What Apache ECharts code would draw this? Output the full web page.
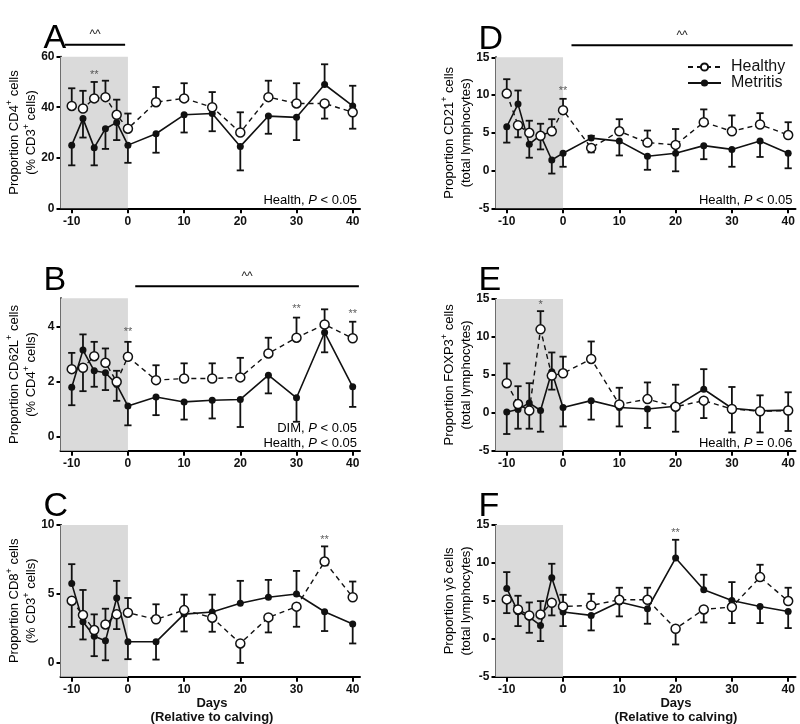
<!DOCTYPE html>
<html><head><meta charset="utf-8">
<script src="https://cdn.jsdelivr.net/npm/echarts@6/dist/echarts.min.js"></script>
<style>html,body{margin:0;padding:0;background:#fff}#c{width:800px;height:724px}</style>
</head><body><div id="c"></div>
<script>
// ---------------- DATA ----------------
const days = [-10, -8, -6, -4, -2, 0, 5, 10, 15, 20, 25, 30, 35, 40];
const xTickLabels = [-10, 0, 10, 20, 30, 40];

// A: CD4+ (% CD3+)
const cd4Healthy     = [40.5, 39.5, 43.5, 44, 37, 31.5, 42, 43.5, 40, 30, 44, 41.5, 41.5, 38];
const cd4HealthySem  = [7, 7, 6.5, 6.5, 6, 6, 6, 6, 6, 8, 6.5, 8, 6, 6.5];
const cd4Metritis    = [25, 35.5, 24, 31.5, 34, 25, 29.5, 37, 37.5, 24.5, 36.5, 36, 49, 40.5];
const cd4MetritisSem = [8, 7.5, 7, 8, 7, 7, 7.5, 7, 7, 9.5, 7, 9, 8, 8];
// D: CD21+ (total lymphocytes)
const cd21Healthy     = [10.2, 6.0, 5.0, 4.6, 5.2, 8.0, 3.0, 5.2, 3.7, 3.4, 6.4, 5.2, 6.1, 4.7];
const cd21HealthySem  = [1.9, 1.6, 1.6, 1.8, 1.6, 1.5, 0.6, 1.6, 1.6, 2.1, 1.7, 2.1, 1.5, 1.7];
const cd21Metritis    = [5.8, 8.8, 3.5, 4.7, 1.4, 2.3, 4.3, 3.9, 1.9, 2.3, 3.3, 2.8, 3.9, 2.3];
const cd21MetritisSem = [2.1, 1.8, 1.8, 1.5, 1.8, 1.8, 0.3, 1.9, 1.8, 2.4, 1.8, 2.3, 2.1, 2.0];
// B: CD62L+ (% CD4+)
const cd62Healthy     = [2.46, 2.51, 2.93, 2.69, 2.0, 2.91, 2.06, 2.12, 2.12, 2.16, 3.03, 3.6, 4.08, 3.58];
const cd62HealthySem  = [0.59, 0.85, 0.52, 0.52, 0.4, 0.54, 0.54, 0.55, 0.55, 0.71, 0.57, 0.73, 0.55, 0.6];
const cd62Metritis    = [1.8, 3.15, 2.4, 2.33, 1.9, 1.12, 1.45, 1.27, 1.33, 1.36, 2.24, 1.42, 3.79, 1.82];
const cd62MetritisSem = [0.65, 0.57, 0.58, 0.63, 0.59, 0.7, 0.66, 0.64, 0.66, 1.0, 0.66, 0.87, 0.72, 0.73];
// E: FOXP3+ (total lymphocytes)
const foxHealthy     = [3.9, 1.15, 0.3, 11.0, 4.9, 5.2, 7.1, 1.1, 1.8, 0.8, 1.6, 0.5, 0.2, 0.3];
const foxHealthySem  = [2.6, 2.35, 2.4, 2.4, 1.85, 2.2, 2.3, 2.2, 2.2, 3.3, 2.3, 3.1, 2.8, 2.7];
const foxMetritis    = [0.1, 0.44, 1.3, 0.3, 5.4, 0.7, 1.6, 0.7, 0.5, 0.85, 3.1, 0.6, 0.25, 0.35];
const foxMetritisSem = [2.9, 2.54, 2.6, 2.8, 2.55, 2.5, 2.5, 2.5, 2.5, 2.85, 2.65, 2.8, 2.05, 2.35];
// C: CD8+ (% CD3+)
const cd8Healthy     = [4.51, 3.47, 2.38, 2.79, 3.52, 3.64, 3.16, 3.83, 3.28, 1.41, 3.3, 4.08, 7.35, 4.76];
const cd8HealthySem  = [1.9, 1.82, 1.14, 1.14, 1.07, 1.07, 1.09, 1.12, 1.02, 1.41, 1.09, 1.46, 1.1, 1.14];
const cd8Metritis    = [5.75, 2.99, 1.94, 1.6, 4.71, 1.53, 1.53, 3.54, 3.69, 4.32, 4.76, 5.0, 3.71, 2.82];
const cd8MetritisSem = [1.41, 1.29, 1.45, 1.41, 1.24, 1.26, 1.29, 1.26, 1.26, 1.63, 1.26, 1.67, 1.4, 1.41];
// F: gamma-delta (total lymphocytes)
const gdHealthy     = [5.19, 3.87, 3.08, 3.21, 4.75, 4.26, 4.4, 5.14, 5.14, 1.32, 3.87, 4.18, 8.13, 4.97];
const gdHealthySem  = [1.81, 1.8, 1.71, 1.76, 1.67, 1.54, 1.53, 1.59, 1.59, 2.07, 1.72, 2.11, 1.63, 1.76];
const gdMetritis    = [6.64, 3.56, 2.86, 1.76, 8.04, 3.52, 3.08, 4.84, 3.96, 10.64, 6.46, 5.05, 4.26, 3.6];
const gdMetritisSem = [2.15, 1.89, 2.07, 2.07, 1.85, 1.85, 1.98, 1.89, 1.98, 2.41, 1.98, 2.42, 2.19, 2.19];

// significance marks [day, y, text]
const starsA = [[-6, 54, '**']];
const starsD = [[0, 11.0, '**']];
const starsB = [[0, 3.92, '**'], [30, 4.75, '**'], [40, 4.57, '**']];
const starsE = [[-4, 14.6, '*']];
const starsC = [[35, 9.13, '**']];
const starsF = [[20, 14.3, '**']];
// "^^" bars [fromDay, toDay]
const caretA = [-11.2, -0.5];
const caretD = [1.5, 40.8];
const caretB = [1.3, 41.1];

// ---------------- LAYOUT ----------------
const FONT = 'Liberation Sans, Arial, Helvetica, sans-serif';
const INK = '#111';
const panels = [
  {letter:'A', H:cd4Healthy, HE:cd4HealthySem, M:cd4Metritis, ME:cd4MetritisSem, yMin:0, yMax:60, yTicks:[0,20,40,60],
   grid:{left:60.5, top:56.7, width:299.5, height:151.6}, stars:starsA, caret:caretA,
   title:'{t|Proportion CD4}{s|+}{t| cells}\n{t|(% CD3}{s|+}{t| cells)}', notes:['Health, {i|P} < 0.05']},
  {letter:'D', H:cd21Healthy, HE:cd21HealthySem, M:cd21Metritis, ME:cd21MetritisSem, yMin:-5, yMax:15, yTicks:[-5,0,5,10,15],
   grid:{left:495.5, top:57.3, width:300, height:151}, stars:starsD, caret:caretD,
   title:'{t|Proportion CD21}{s|+}{t| cells}\n{t|(total lymphocytes)}', notes:['Health, {i|P} < 0.05']},
  {letter:'B', H:cd62Healthy, HE:cd62HealthySem, M:cd62Metritis, ME:cd62MetritisSem, yMin:-0.5, yMax:5.03, yTicks:[0,2,4],
   grid:{left:60.5, top:298.3, width:299.5, height:152.4}, stars:starsB, caret:caretB,
   title:'{t|Proportion CD62L}{s|+}{t| cells}\n{t|(% CD4}{s|+}{t| cells)}', notes:['DIM, {i|P} < 0.05', 'Health, {i|P} < 0.05']},
  {letter:'E', H:foxHealthy, HE:foxHealthySem, M:foxMetritis, ME:foxMetritisSem, yMin:-5, yMax:15, yTicks:[-5,0,5,10,15],
   grid:{left:495.5, top:299, width:300, height:151.7}, stars:starsE, caret:null,
   title:'{t|Proportion FOXP3}{s|+}{t| cells}\n{t|(total lymphocytes)}', notes:['Health, {i|P} = 0.06']},
  {letter:'C', H:cd8Healthy, HE:cd8HealthySem, M:cd8Metritis, ME:cd8MetritisSem, yMin:-1, yMax:10, yTicks:[0,5,10],
   grid:{left:60.5, top:525, width:299.5, height:151.7}, stars:starsC, caret:null,
   title:'{t|Proportion CD8}{s|+}{t| cells}\n{t|(% CD3}{s|+}{t| cells)}', notes:[], days:212},
  {letter:'F', H:gdHealthy, HE:gdHealthySem, M:gdMetritis, ME:gdMetritisSem, yMin:-5, yMax:15, yTicks:[-5,0,5,10,15],
   grid:{left:495.5, top:525, width:300, height:151.7}, stars:starsF, caret:null,
   title:'{t|Proportion γδ cells}\n{t|(total lymphocytes)}', notes:[], days:676}
];

const chart = echarts.init(document.getElementById('c'), null, {renderer:'canvas'});

const grids = [], xAxes = [], yAxes = [], series = [];
panels.forEach((p, i) => {
  grids.push(Object.assign({containLabel:false}, p.grid));
  xAxes.push({
    type:'value', gridIndex:i, min:-12, max:41.3,
    axisLine:{show:true, onZero:false, lineStyle:{color:'#000', width:2}},
    axisTick:{show:true, customValues:xTickLabels, length:5, lineStyle:{color:'#000', width:2}},
    axisLabel:{show:true, customValues:xTickLabels, fontFamily:FONT, fontWeight:'bold', fontSize:12, color:INK, margin:7},
    splitLine:{show:false}
  });
  yAxes.push({
    type:'value', gridIndex:i, min:p.yMin, max:p.yMax,
    axisLine:{show:true, onZero:false, lineStyle:{color:'#000', width:2}},
    axisTick:{show:true, customValues:p.yTicks, length:4, lineStyle:{color:'#000', width:2}},
    axisLabel:{show:true, customValues:p.yTicks, fontFamily:FONT, fontWeight:'bold', fontSize:12, color:INK, margin:6},
    splitLine:{show:false}
  });
  // shading (pre-calving)
  series.push({
    type:'line', xAxisIndex:i, yAxisIndex:i, data:[[-12, p.yMin]], showSymbol:false, symbol:'none',
    lineStyle:{opacity:0}, z:1, silent:true,
    markArea:{silent:true, itemStyle:{color:'#dadada'}, data:[[{xAxis:-12}, {xAxis:0}]]}
  });
  // error bars
  const mkErr = (vals, errs, other, healthy) => ({
    type:'custom', xAxisIndex:i, yAxisIndex:i, z:2, silent:true,
    data: days.map((d, j) => {
      const up = healthy ? vals[j] >= other[j] : vals[j] > other[j];
      return [d, vals[j], up ? vals[j] + errs[j] : vals[j] - errs[j]];
    }),
    encode:{x:0, y:[1, 2]},
    renderItem: (params, api) => {
      const a = api.coord([api.value(0), api.value(1)]);
      const b = api.coord([api.value(0), api.value(2)]);
      const w = 3.6;
      return {type:'group', children:[
        {type:'line', shape:{x1:a[0], y1:a[1], x2:b[0], y2:b[1]}, style:{stroke:INK, lineWidth:1.8}},
        {type:'line', shape:{x1:b[0]-w, y1:b[1], x2:b[0]+w, y2:b[1]}, style:{stroke:INK, lineWidth:1.8}}
      ]};
    }
  });
  series.push(mkErr(p.H, p.HE, p.M, true));
  series.push(mkErr(p.M, p.ME, p.H, false));
  series.push({
    name:'Metritis', type:'line', xAxisIndex:i, yAxisIndex:i, z:3,
    data: days.map((d, j) => [d, p.M[j]]),
    symbol:'circle', symbolSize:7, showAllSymbol:true,
    itemStyle:{color:INK, borderColor:INK, borderWidth:0},
    lineStyle:{color:INK, width:1.6, type:'solid'}, animation:false
  });
  series.push({
    name:'Healthy', type:'line', xAxisIndex:i, yAxisIndex:i, z:4,
    data: days.map((d, j) => [d, p.H[j]]),
    symbol:'circle', symbolSize:9, showAllSymbol:true,
    itemStyle:{color:'#fff', borderColor:INK, borderWidth:1.5},
    lineStyle:{color:INK, width:1.4, type:[5, 4]}, animation:false
  });
  // significance stars
  series.push({
    type:'scatter', xAxisIndex:i, yAxisIndex:i, z:5, silent:true,
    data: p.stars.map(s => ({value:[s[0], s[1]], label:{formatter:s[2]}})),
    symbolSize:0,
    label:{show:true, position:'inside', offset:[0, 3], fontFamily:FONT, fontSize:11, color:'#333'}
  });
});

chart.setOption({
  animation:false,
  backgroundColor:'#fff',
  grid:grids, xAxis:xAxes, yAxis:yAxes, series:series,
  legend:{
    data:['Healthy', 'Metritis'], orient:'vertical', left:682, top:54,
    itemWidth:33, itemHeight:9, itemGap:0,
    textStyle:{fontFamily:FONT, fontSize:16, color:INK, padding:[0,0,0,5]},
    selectedMode:false
  }
});

// ---------------- ANNOTATIONS ----------------
const graphic = [];
const titleRich = {
  t:{fontFamily:FONT, fontSize:13, color:'#222', lineHeight:17},
  s:{fontFamily:FONT, fontSize:9, color:'#222', lineHeight:10, verticalAlign:'top'}
};
panels.forEach((p, i) => {
  const g = p.grid;
  const right = g.left + g.width, bottom = g.top + g.height;
  graphic.push({type:'text', x:g.left - 17, y:g.top - 18, z:10,
    style:{text:p.letter, font:'34px ' + FONT, fill:'#000', align:'left', verticalAlign:'middle'}});
  graphic.push({type:'text', x:g.left - 38, y:g.top + g.height / 2, rotation:Math.PI / 2, z:10,
    style:{text:p.title, rich:titleRich, align:'center', verticalAlign:'middle'}});
  p.notes.forEach((n, k) => {
    const yy = bottom - 7.5 - (p.notes.length - 1 - k) * 15;
    graphic.push({type:'text', x:right - 3, y:yy, z:10,
      style:{text:'{n|' + n.replace('{i|P}', '}{i|P}{n|') + '}', align:'right', verticalAlign:'middle',
        rich:{n:{fontFamily:FONT, fontSize:13, color:'#222'}, i:{fontFamily:FONT, fontSize:13, fontStyle:'italic', color:'#222'}}}});
  });
  if (p.caret) {
    const x1 = chart.convertToPixel({xAxisIndex:i}, p.caret[0]);
    const x2 = chart.convertToPixel({xAxisIndex:i}, p.caret[1]);
    const yy = g.top - 12;
    graphic.push({type:'line', z:10, shape:{x1:x1, y1:yy, x2:x2, y2:yy}, style:{stroke:'#000', lineWidth:2}});
    graphic.push({type:'text', x:(x1 + x2) / 2, y:yy - 4, z:10,
      style:{text:'^^', font:'12px ' + FONT, fill:'#222', align:'center', verticalAlign:'bottom'}});
  }
  if (p.days) {
    graphic.push({type:'text', x:p.days, y:703, z:10,
      style:{text:'Days', font:'bold 13px ' + FONT, fill:INK, align:'center', verticalAlign:'middle'}});
    graphic.push({type:'text', x:p.days, y:717, z:10,
      style:{text:'(Relative to calving)', font:'bold 13px ' + FONT, fill:INK, align:'center', verticalAlign:'middle'}});
  }
});
chart.setOption({graphic:graphic});
</script></body></html>
